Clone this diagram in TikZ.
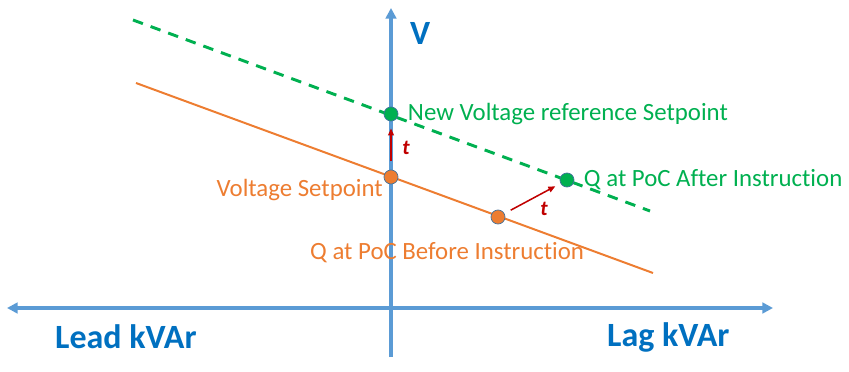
\documentclass[tikz,border=0pt]{standalone}
\usepackage{fontspec}
\setmainfont[Ligatures=NoCommon]{Carlito}
\usepackage{xcolor}
\usetikzlibrary{arrows.meta, positioning}
\definecolor{axisblue}{HTML}{5B9BD5}
\definecolor{textblue}{HTML}{0070C0}
\definecolor{vgreen}{HTML}{00B050}
\definecolor{vorange}{HTML}{ED7D31}
\definecolor{darkred}{HTML}{C00000}
\definecolor{rimblue}{HTML}{41719C}

\begin{document}
\begin{tikzpicture}[
  x=0.03cm, y=-0.03cm,
  axis/.style={-{Triangle[length=9pt, width=9pt]}, line width=3.4pt, axisblue},
  dot/.style={circle, draw=rimblue, line width=0.6pt, inner sep=0pt, minimum size=12pt},
  gdot/.style={dot, fill=vgreen},
  odot/.style={dot, fill=vorange},
  lbl/.style={font=\fontsize{21.2}{23}\selectfont, inner sep=0pt},
  big/.style={font=\fontsize{29}{32}\selectfont\bfseries, text=textblue, inner sep=0pt},
  move/.style={-{Triangle[length=6pt, width=5pt]}, line width=1.3pt, darkred},
  tlbl/.style={font=\fontsize{18}{20}\selectfont\bfseries\itshape, text=darkred, inner sep=0pt},
]
\useasboundingbox (0,0) rectangle (849,372);

% axes
\coordinate (origin) at (391,308);
\coordinate (vbot) at (391,357);
\coordinate (vtop) at (391,8);
\coordinate (xleft) at (7,308);
\coordinate (xright) at (773,308);
\draw[axis] (origin) -- (xleft);
\draw[axis] (origin) -- (xright);
\draw[axis] (vbot) -- (vtop);

% droop lines
\coordinate (gstart) at (133,20);
\coordinate (gend) at (650,211);
\coordinate (ostart) at (136,83);
\coordinate (oend) at (653,273);
\draw[vgreen, line width=2.5pt, dash pattern=on 9pt off 7pt] (gstart) -- (gend);
\draw[vorange, line width=1.7pt] (ostart) -- (oend);

% operating points
\node[gdot] (newsp) at (391,114) {};
\node[odot] (vsp) at (391,177) {};
\node[odot] (qbefore) at (498,217) {};
\node[gdot] (qafter) at (567,180) {};

\draw[move, shorten <=7pt, shorten >=6pt] (vsp) -- (newsp);
\draw[move, shorten <=6pt, shorten >=5pt] (qbefore) -- (qafter);

% labels
\node[big, anchor=west] (vlbl) at (410,33) {V};
\node[big, anchor=west] (lead) at (55,337) {Lead kVAr};
\node[big, anchor=west] (lag) at (607,337) {Lag kVAr};
\node[lbl, text=vgreen, right=8pt of newsp] (newlbl) {New Voltage reference Setpoint};
\node[lbl, text=vgreen, right=8pt of qafter] (afterlbl) {Q at PoC After Instruction};
\node[lbl, text=vorange, anchor=east] (vsplbl) at (383,190) {Voltage Setpoint};
\node[lbl, text=vorange, anchor=west] (beforelbl) at (310,253) {Q at PoC Before Instruction};
\node[tlbl] (t1) at (406,148) {t};
\node[tlbl] (t2) at (544,209) {t};

\end{tikzpicture}
\end{document}
